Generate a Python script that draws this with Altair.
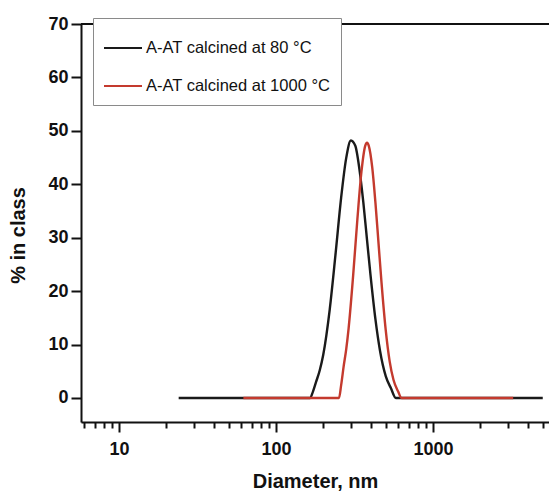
import altair as alt
import pandas as pd

# ---- data ----
black_label = "A-AT calcined at 80 °C"
red_label = "A-AT calcined at 1000 °C"

black_d = [24, 165, 172, 180, 190, 200, 220, 240, 260, 280, 300, 320, 340, 360, 380, 400, 430, 460, 500, 540, 580, 5000]
black_v = [0, 0, 1.2, 3.0, 5.2, 8.1, 16.6, 27.2, 37.5, 44.9, 48.2, 47.2, 42.8, 36.6, 29.6, 23.0, 14.7, 8.8, 4.1, 1.8, 0, 0]

red_d = [62, 252, 260, 270, 280, 290, 310, 330, 350, 370, 380, 390, 410, 430, 450, 470, 500, 530, 560, 600, 630, 3240]
red_v = [0, 0, 2.4, 6.0, 9.1, 13.0, 22.9, 33.5, 42.3, 47.2, 47.8, 47.2, 43.2, 36.5, 28.9, 21.6, 12.7, 6.8, 3.4, 1.2, 0, 0]

x_tick_values = [6, 7, 8, 9, 10, 20, 30, 40, 50, 60, 70, 80, 90, 100,
                 200, 300, 400, 500, 600, 700, 800, 900, 1000, 2000, 3000, 4000, 5000]
x_labelled = [10, 100, 1000]
y_tick_values = [0, 5, 10, 15, 20, 25, 30, 35, 40, 45, 50, 55, 60, 65, 70]

series = [black_label, red_label]
colors = ["#1a1a1a", "#c43a2e"]

df_black = pd.DataFrame({"d": black_d, "v": black_v, "s": black_label})
df_red = pd.DataFrame({"d": red_d, "v": red_v, "s": red_label})
df_top = pd.DataFrame({"y": [70]})

FONT = "Liberation Sans"

x_labels_expr = " || ".join(f"datum.value == {v}" for v in x_labelled)

x_enc = alt.X(
    "d:Q",
    scale=alt.Scale(type="log", domain=[5.73, 5480], nice=False),
    axis=alt.Axis(
        values=x_tick_values,
        labelExpr=f"({x_labels_expr}) ? format(datum.value, 'd') : ''",
        tickSize={"condition": {"test": x_labels_expr, "value": 10}, "value": 6},
        grid=False,
        labelFlush=False,
        labelOverlap=False,
        labelPadding=8,
        title="Diameter, nm",
        titleY=65,
        titleBaseline="alphabetic",
    ),
)
y_enc = alt.Y(
    "v:Q",
    scale=alt.Scale(domain=[-4.5, 70], nice=False, zero=False),
    axis=alt.Axis(
        values=y_tick_values,
        labelExpr="datum.value % 10 == 0 ? datum.label : ''",
        tickSize={"condition": {"test": "datum.value % 10 == 0", "value": 10}, "value": 6},
        grid=False,
        labelOverlap=False,
        labelPadding=3,
        title="% in class",
        titleX=-63,
        titleY=211,
        titleAngle=270,
        titleAlign="center",
        titleBaseline="middle",
    ),
)
color_enc = alt.Color(
    "s:N",
    scale=alt.Scale(domain=series, range=colors),
    title=None,
    legend=alt.Legend(
        orient="none",
        legendX=12,
        legendY=-6,
        symbolType="stroke",
        symbolSize=1444,
        symbolStrokeWidth=2,
        labelFont=FONT,
        labelFontSize=16.5,
        labelColor="#111111",
        labelOffset=3,
        labelLimit=0,
        rowPadding=9,
        padding=10,
        fillColor="white",
        strokeColor="#8a8a8a",
        cornerRadius=0,
    ),
)

top_line = alt.Chart(df_top).mark_rule(color="#111111", strokeWidth=2).encode(y=alt.Y("y:Q"))

black_line = alt.Chart(df_black).mark_line(strokeWidth=2.4, interpolate="monotone").encode(
    x=x_enc, y=y_enc, color=color_enc
)
red_line = alt.Chart(df_red).mark_line(strokeWidth=2.4, interpolate="monotone").encode(
    x=x_enc, y=y_enc, color=color_enc
)

chart = (
    alt.layer(top_line, black_line, red_line)
    .properties(
        width=468,
        height=398,
        autosize=alt.AutoSizeParams(type="none"),
        padding={"left": 81, "top": 24, "right": 0, "bottom": 71},
    )
    .configure_view(stroke=None)
    .configure(background="white")
    .configure_axis(
        labelFont=FONT,
        labelFontSize=18,
        labelFontWeight="bold",
        labelColor="#111111",
        titleFont=FONT,
        titleFontSize=20,
        titleFontWeight="bold",
        titleColor="#111111",
        domainColor="#111111",
        domainWidth=2,
        tickColor="#111111",
        tickWidth=2,
    )
)

chart.save("out.html", embed_options={"renderer": "svg", "actions": False})
